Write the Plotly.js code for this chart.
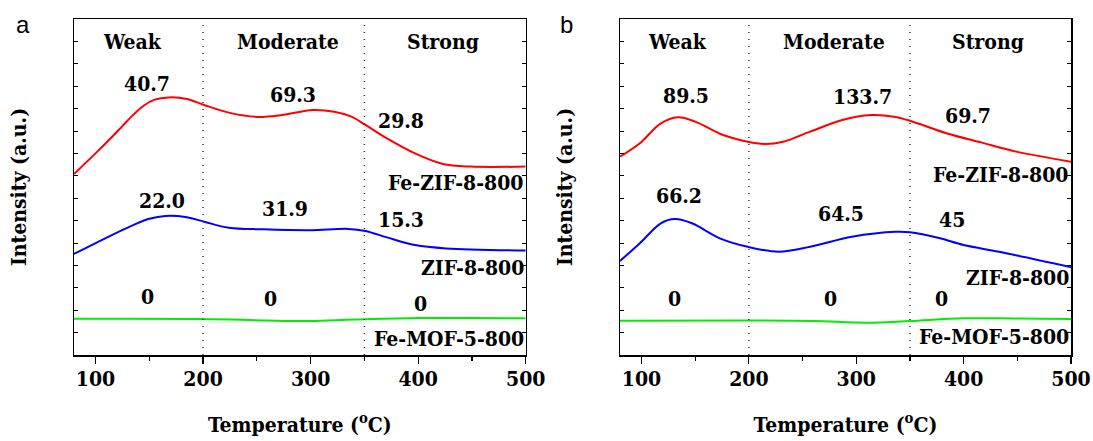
<!DOCTYPE html>
<html>
<head>
<meta charset="utf-8">
<script src="https://cdn.plot.ly/plotly-3.0.1.min.js"></script>
<style>
  html, body { margin: 0; padding: 0; background: #fff; }
  #chart { width: 1093px; height: 441px; }
</style>
</head>
<body>
<div id="chart"></div>
<script>
// NH3-TPD style profiles: intensity (a.u.) against temperature (°C)

// Panel a
const tempA_feZif = [80, 100, 115, 125, 135, 145, 155, 168, 185, 201, 224, 250, 273, 302, 322, 338, 351, 371, 397, 423, 449, 500];
const intA_feZif  = [8.08, 9.00, 9.72, 10.22, 10.72, 11.14, 11.40, 11.50, 11.43, 11.16, 10.82, 10.63, 10.71, 10.94, 10.86, 10.64, 10.27, 9.67, 9.00, 8.53, 8.41, 8.41];
const tempA_zif   = [80, 109, 135, 150, 165, 185, 201, 224, 256, 299, 335, 351, 371, 397, 426, 500];
const intA_zif    = [4.51, 5.21, 5.80, 6.08, 6.21, 6.15, 5.95, 5.68, 5.61, 5.57, 5.63, 5.54, 5.25, 4.91, 4.76, 4.66];
const tempA_mof   = [80, 200, 260, 300, 340, 400, 450, 500];
const intA_mof    = [1.62, 1.61, 1.54, 1.52, 1.58, 1.65, 1.65, 1.64];

// Panel b
const tempB_feZif = [80, 98.5, 118, 134, 150, 176, 199, 215, 232, 257, 287, 314, 335, 350, 384, 417, 449, 500];
const intB_feZif  = [8.85, 9.45, 10.34, 10.61, 10.42, 9.82, 9.52, 9.42, 9.52, 9.97, 10.49, 10.71, 10.64, 10.46, 9.90, 9.48, 9.08, 8.63];
const tempB_zif   = [80, 98.5, 118, 131, 147, 173, 199, 228, 257, 296, 337, 350, 378, 400, 433, 500];
const intB_zif    = [4.20, 4.99, 5.88, 6.07, 5.88, 5.21, 4.83, 4.61, 4.83, 5.28, 5.50, 5.48, 5.21, 4.91, 4.61, 3.92];
const tempB_mof   = [80, 200, 260, 310, 350, 400, 450, 500];
const intB_mof    = [1.53, 1.54, 1.52, 1.44, 1.52, 1.64, 1.63, 1.61];

// Acid-site regions and their boundaries (°C)
const regionNames = ["Weak", "Moderate", "Strong"];
const regionBounds = [200, 350];

// Peak-area labels per sample, ordered weak / moderate / strong
const areasA_feZif = ["40.7", "69.3", "29.8"];
const areasA_zif   = ["22.0", "31.9", "15.3"];
const areasA_mof   = ["0", "0", "0"];
const areasB_feZif = ["89.5", "133.7", "69.7"];
const areasB_zif   = ["66.2", "64.5", "45"];
const areasB_mof   = ["0", "0", "0"];

const sampleNames = ["Fe-ZIF-8-800", "ZIF-8-800", "Fe-MOF-5-800"];
const colors = ["#ff0000", "#0000ff", "#00ee00"];

const txtFont = { family: "DejaVu Serif Condensed", size: 21, color: "#000", weight: "bold" };

function line(x, y, color, xa, ya) {
  return { x, y, xaxis: xa, yaxis: ya, type: "scatter", mode: "lines",
           line: { color, width: 2, shape: "spline", smoothing: 1 },
           hoverinfo: "skip", showlegend: false };
}

const data = [
  line(tempA_feZif, intA_feZif, colors[0], "x", "y"),
  line(tempA_zif, intA_zif, colors[1], "x", "y"),
  line(tempA_mof, intA_mof, colors[2], "x", "y"),
  line(tempB_feZif, intB_feZif, colors[0], "x2", "y2"),
  line(tempB_zif, intB_zif, colors[1], "x2", "y2"),
  line(tempB_mof, intB_mof, colors[2], "x2", "y2"),
];

function xAxis(domain, anchor) {
  return {
    domain, anchor, range: [80, 500], tickvals: [100, 200, 300, 400, 500],
    ticks: "outside", ticklen: 7, tickwidth: 1.2, tickcolor: "#000",
    ticklabelstandoff: -3,
    minor: { dtick: 50, tick0: 0, ticks: "outside", ticklen: 4, tickwidth: 1.2, tickcolor: "#000" },
    showline: true, linecolor: "#000", linewidth: 1.5, mirror: true,
    showgrid: false, zeroline: false, tickfont: txtFont,
    title: { text: "Temperature (<sup>o</sup>C)", font: txtFont, standoff: 27 },
    fixedrange: true,
  };
}
function yAxis(domain, anchor) {
  return {
    domain, anchor, range: [0, 15], dtick: 1,
    ticks: "inside", ticklen: 4, tickwidth: 1, tickcolor: "#000",
    showticklabels: false, showline: true, linecolor: "#000", linewidth: 1.5,
    mirror: "allticks", showgrid: false, zeroline: false,
    title: { text: "Intensity (a.u.)", font: txtFont, standoff: 40 },
    fixedrange: true,
  };
}
// Top edge ticks pointing into the frame
function topAxis(over, domain) {
  return {
    overlaying: over, side: "top", domain, range: [80, 500], dtick: 50, tick0: 0,
    ticks: "inside", ticklen: 3, tickwidth: 1, tickcolor: "#000",
    showticklabels: false, showline: false, showgrid: false, zeroline: false, fixedrange: true,
  };
}

const domA = [74 / 1093, 525.7 / 1093];
const domB = [620 / 1093, 1071 / 1093];
const domY = [86 / 441, 422 / 441];

// Dotted boundaries between the weak / moderate / strong regions
const shapes = [];
for (const xr of ["x", "x2"]) {
  for (const b of regionBounds) {
    shapes.push({ type: "line", xref: xr, yref: (xr === "x" ? "y" : "y2") + " domain",
                  x0: b, x1: b, y0: 0, y1: 1,
                  line: { color: "#333", width: 1.5, dash: "1px,6px" } });
  }
}

const annotations = [];
function label(text, x, y, xr, yr, anchor) {
  annotations.push({ text, x, y, xref: xr, yref: yr, showarrow: false,
                     xanchor: anchor || "center", yanchor: "middle", font: txtFont });
}

// Region headings
const regionX = [134, 279, 423];
regionNames.forEach((n, i) => {
  label(n, regionX[i], 13.99, "x", "y");
  label(n, regionX[i], 13.99, "x2", "y2");
});

// Panel a peak areas
const posA_feZif = [[148, 12.14], [284, 11.61], [384, 10.46]];
const posA_zif   = [[162, 6.89], [276, 6.55], [384, 6.06]];
const posA_mof   = [[148, 2.63], [263, 2.53], [402, 2.31]];
areasA_feZif.forEach((t, i) => label(t, posA_feZif[i][0], posA_feZif[i][1], "x", "y"));
areasA_zif.forEach((t, i) => label(t, posA_zif[i][0], posA_zif[i][1], "x", "y"));
areasA_mof.forEach((t, i) => label(t, posA_mof[i][0], posA_mof[i][1], "x", "y"));

// Panel b peak areas
const posB_feZif = [[141, 11.58], [306, 11.53], [404, 10.71]];
const posB_zif   = [[135, 7.14], [286, 6.33], [389, 6.03]];
const posB_mof   = [[131, 2.53], [276, 2.53], [379, 2.53]];
areasB_feZif.forEach((t, i) => label(t, posB_feZif[i][0], posB_feZif[i][1], "x2", "y2"));
areasB_zif.forEach((t, i) => label(t, posB_zif[i][0], posB_zif[i][1], "x2", "y2"));
areasB_mof.forEach((t, i) => label(t, posB_mof[i][0], posB_mof[i][1], "x2", "y2"));

// Sample names, right-aligned against the frame
const nameYA = [7.69, 3.92, 0.75];
const nameYB = [8.04, 3.47, 0.82];
sampleNames.forEach((n, i) => {
  label(n, 500, nameYA[i], "x", "y", "right");
  label(n, 500, nameYB[i], "x2", "y2", "right");
});

// Panel letters
const letterFont = { family: "Liberation Sans", size: 24, color: "#000" };
annotations.push({ text: "a", x: 23 / 1093, y: 1 - 25 / 441, xref: "paper", yref: "paper",
                   showarrow: false, xanchor: "center", yanchor: "middle", font: letterFont });
annotations.push({ text: "b", x: 566 / 1093, y: 1 - 25 / 441, xref: "paper", yref: "paper",
                   showarrow: false, xanchor: "center", yanchor: "middle", font: letterFont });

const layout = {
  width: 1093, height: 441,
  margin: { l: 0, r: 0, t: 0, b: 0 },
  paper_bgcolor: "#fff", plot_bgcolor: "#fff",
  showlegend: false,
  xaxis: xAxis(domA, "y"),
  yaxis: yAxis(domY, "x"),
  xaxis2: xAxis(domB, "y2"),
  yaxis2: yAxis(domY, "x2"),
  xaxis3: topAxis("x", domA),
  xaxis4: topAxis("x2", domB),
  shapes, annotations,
};

Plotly.newPlot("chart", data, layout, { displayModeBar: false, staticPlot: true });
</script>
</body>
</html>
